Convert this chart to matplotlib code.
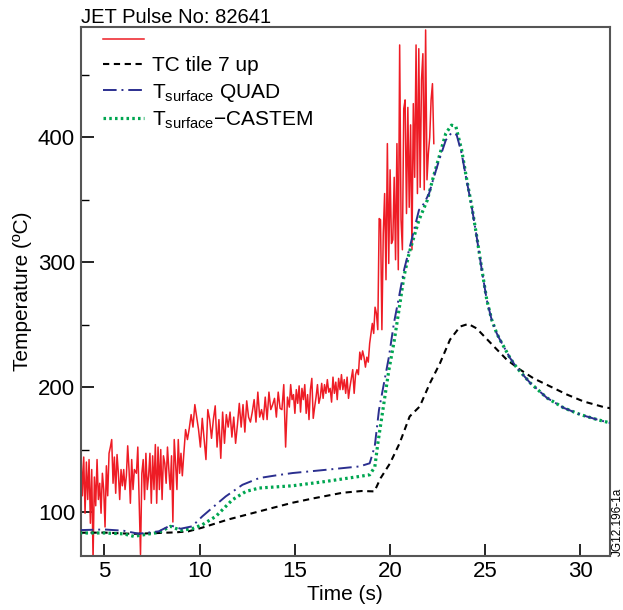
import numpy as np
import matplotlib
matplotlib.use("Agg")
import matplotlib.pyplot as plt

plt.rcParams['font.family'] = ['Liberation Sans', 'DejaVu Sans']
plt.rcParams['mathtext.fontset'] = 'custom'
plt.rcParams['mathtext.rm'] = 'Liberation Sans'
plt.rcParams['mathtext.it'] = 'Liberation Sans:italic'

# ---------------- data ----------------
# red (IR) trace, sampled in segments (start time, end time, values)
red_seg_a = [134, 147, 113, 144, 99, 140, 110, 142, 91, 134, 62, 128, 105, 142, 110, 123, 99,
             131, 118, 88, 137, 113, 147, 152, 158, 123, 144, 115, 146, 131, 110, 134, 121, 134,
             118, 129, 153, 134, 107, 142, 118, 134]
red_seg_a_t = (3.70, 6.57)
red_seg_b = [131, 152, 110, 66, 131, 142, 110, 147, 118, 129, 147, 107, 145, 118, 154, 107, 152,
             118, 150, 110, 145, 139, 123, 152, 134, 118, 145, 92, 158, 139, 118, 158, 131, 147,
             129, 145]
red_seg_b_t = (6.68, 9.16)
red_seg_c = [166, 158, 167, 178, 168, 186, 176, 166, 152, 175, 158, 142, 182, 174, 159, 174, 185,
             152, 174, 143, 180, 155, 178, 168, 180, 160, 176, 155, 170, 187, 168, 186, 164, 189,
             176, 172, 180, 190, 172, 196, 176, 182, 174, 192, 174, 196, 182, 186, 191, 176, 196,
             183, 182, 202, 152, 192, 184]
red_seg_c_t = (9.26, 14.71)
red_seg_d = [202, 190, 194, 179, 198, 187, 201, 180, 199, 190, 202, 179, 194, 174, 198, 207, 175,
             184, 192, 202, 187, 192, 203, 191, 202, 195, 206, 196, 199, 188, 208, 195, 204, 190,
             207, 198, 210, 198, 206, 195, 208, 191, 200, 207, 214, 195, 210, 214, 210, 228, 222,
             229, 224, 216, 224, 220, 235]
red_seg_d_t = (14.78, 18.93)
red_seg_e = [251, 243, 264, 259, 246, 335, 334, 246, 323, 355, 286, 395, 299, 374, 315, 318, 368,
             302, 395, 294, 474, 334, 310, 423, 430, 339, 424, 344, 410, 310, 427, 368, 474, 355,
             471, 360, 446, 467, 358, 486, 366, 387, 400, 430, 443, 395]
red_seg_e_t = (19.07, 22.30)

tc_time = [3.7, 5.0, 6.5, 7.5, 8.74, 9.4, 10.12, 11.5, 13.13, 14.87, 16.0, 17.5, 18.5, 19.18,
           19.5, 20.0, 20.5, 21.03, 21.56, 22.09, 22.62, 23.15, 23.68, 24.11, 24.55, 24.8, 25.43,
           26.13, 26.83, 27.54, 28.42, 29.3, 30.17, 31.23, 31.6]
tc_temp = [83.4, 83.5, 82.5, 83.0, 83.7, 84.5, 87.4, 94.0, 100.5, 107.4, 111.0, 115.4, 116.8,
           116.5, 127.0, 139.0, 155.0, 176.5, 184.5, 203.0, 219.0, 238.0, 248.5, 250.6, 247.0,
           243.0, 233.0, 222.0, 214.0, 207.0, 200.5, 194.0, 188.5, 184.0, 183.0]

quad_time = [3.7, 5.0, 6.0, 6.8, 7.85, 8.47, 9.0, 9.6, 10.14, 10.85, 11.37, 12.25, 13.13, 14.0,
             14.88, 16.64, 18.4, 18.93, 19.05, 19.2, 19.42, 19.68, 19.94, 20.2, 20.47, 20.73,
             21.0, 21.26, 21.52, 21.79, 22.05, 22.31, 22.58, 22.93, 23.23, 23.5, 23.76, 24.02,
             24.29, 24.55, 24.82, 25.08, 25.34, 25.6, 25.78, 26.3, 26.66, 27.36, 28.24, 29.12,
             30.0, 30.88, 31.6]
quad_temp = [85.5, 86.0, 85.0, 82.6, 84.5, 89.3, 86.6, 88.5, 96.5, 105.8, 112.5, 121.8, 127.2,
             129.3, 131.2, 133.8, 136.5, 139.0, 145.0, 153.0, 181.8, 203.0, 224.2, 250.9, 272.2,
             293.5, 309.8, 325.8, 341.8, 347.2, 355.0, 368.5, 381.8, 397.8, 403.7, 402.0, 387.2,
             365.8, 344.5, 320.5, 293.8, 269.8, 253.8, 243.2, 237.8, 223.4, 215.5, 203.4, 191.4,
             183.4, 178.0, 174.0, 171.2]

castem_time = [3.7, 5.0, 6.0, 6.54, 7.86, 8.47, 9.0, 9.6, 10.14, 10.85, 11.72, 12.43, 13.13,
               14.88, 16.64, 18.4, 18.93, 19.2, 19.36, 19.68, 19.94, 20.2, 20.47, 20.73, 21.0,
               21.52, 21.96, 22.23, 22.58, 22.93, 23.23, 23.46, 23.76, 24.02, 24.29, 24.55, 24.82,
               25.08, 25.34, 25.6, 25.78, 26.3, 26.66, 27.36, 28.24, 29.12, 30.0, 30.88, 31.6]
castem_temp = [83.2, 83.2, 82.5, 80.5, 83.7, 88.5, 85.3, 86.6, 89.8, 96.5, 109.8, 116.5, 119.2,
               121.0, 124.5, 128.5, 129.8, 136.0, 155.0, 187.4, 213.8, 235.2, 261.8, 288.5, 307.2,
               333.8, 349.8, 365.8, 384.5, 403.2, 409.8, 408.5, 390.0, 367.0, 345.0, 321.0, 294.5,
               270.0, 254.0, 243.2, 237.8, 223.4, 215.5, 203.4, 191.4, 183.4, 178.0, 174.0, 171.2]

legend_labels = ["", "TC tile 7 up", "T$_{\\rm surface}$ QUAD", "T$_{\\rm surface}$\u2212CASTEM"]
title_text = "JET Pulse No: 82641"
x_label = "Time (s)"
y_label = "Temperature (\u00baC)"
side_text = "JG12.196-1a"

# build red time axis per segment
red_time = []
red_temp = []
for seg, (t0, t1) in [(red_seg_a, red_seg_a_t), (red_seg_b, red_seg_b_t), (red_seg_c, red_seg_c_t),
                      (red_seg_d, red_seg_d_t), (red_seg_e, red_seg_e_t)]:
    red_time.extend(np.linspace(t0, t1, len(seg)))
    red_temp.extend(seg)

# ---------------- figure ----------------
fig = plt.figure(figsize=(6.23, 6.10), dpi=100)
ax = fig.add_axes([0.1295, 0.089, 0.979 - 0.1295, 0.956 - 0.089])

red_c = '#ee1c25'
blk_c = '#000000'
blue_c = '#2b2f8f'
green_c = '#00a651'

l_red, = ax.plot(red_time, red_temp, color=red_c, lw=1.1, zorder=2)
l_tc, = ax.plot(tc_time, tc_temp, color=blk_c, lw=1.5, dashes=(3, 2.2), zorder=3)
l_quad, = ax.plot(quad_time, quad_temp, color=blue_c, lw=1.4, dashes=(7, 2.5, 1, 2.5), zorder=4)
l_cas, = ax.plot(castem_time, castem_temp, color=green_c, lw=2.3, dashes=(0.8, 1.0), zorder=3)

ax.set_xlim(3.75, 31.55)
ax.set_ylim(65, 488.5)
ax.set_xticks([5, 10, 15, 20, 25, 30])
ax.set_yticks([100, 200, 300, 400])
ax.set_yticks([150, 250, 350, 450], minor=True)
ax.tick_params(axis='both', which='major', direction='in', length=9, width=1.2,
               labelsize=16, pad=4, color='black')
ax.tick_params(axis='y', which='minor', direction='in', length=6, width=1.0, color='black')
for s in ax.spines.values():
    s.set_linewidth(1.5)
    s.set_color('#555555')

ax.set_xlabel(x_label, fontsize=15, labelpad=2)
ax.set_ylabel(y_label, fontsize=15, labelpad=4)
ax.set_title(title_text, loc='left', fontsize=14.5, pad=2)

leg = ax.legend([l_red, l_tc, l_quad, l_cas], legend_labels, loc='upper left',
                bbox_to_anchor=(0.035, 1.0), frameon=False, fontsize=15,
                handlelength=1.95, handletextpad=0.4, labelspacing=0.3,
                borderaxespad=0.0, borderpad=0.2)

fig.text(0.992, 0.089, side_text, rotation=90, ha='center', va='bottom', fontsize=8.5)

fig.savefig("out.png", dpi=100)
